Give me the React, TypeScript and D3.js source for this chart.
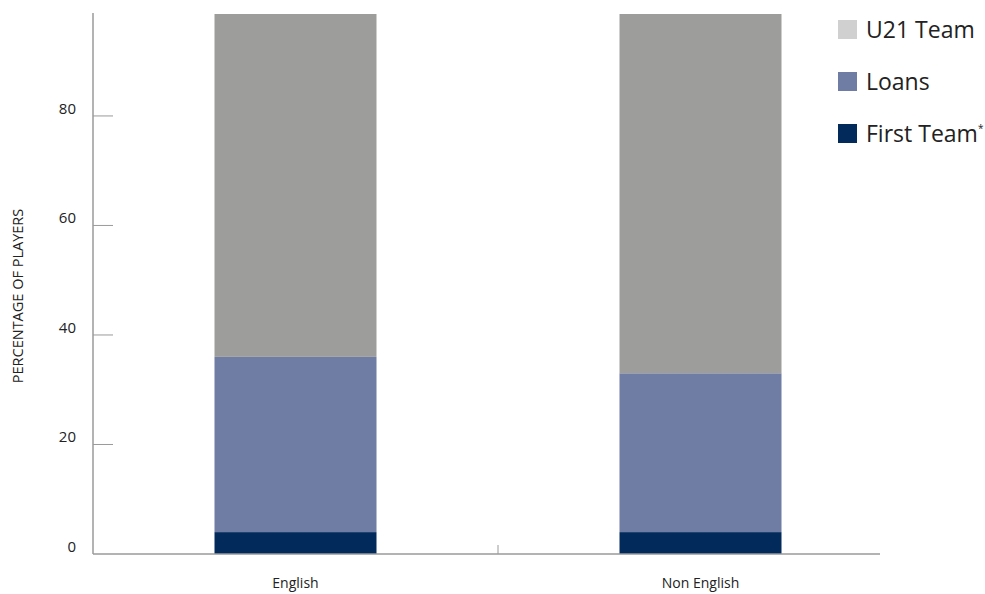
import React from "react";
import * as d3 from "d3";

const categories = ["English", "Non English"];
const seriesNames = ["First Team", "Loans", "U21 Team"];
const firstTeam = [4, 4];
const loans = [32, 29];
const u21Team = [64, 67];
const yTicks = [0, 20, 40, 60, 80];
const barColors = ["#022b5c", "#6f7ca3", "#9d9d9b"];
const legendColors = ["#022b5c", "#6f7ca3", "#d0d0d0"];
const legendItems = ["U21 Team", "Loans", "First Team"];

const W = 985;
const H = 594;
const left = 93;
const right = 903;
const top = 13;
const bottom = 554;

export default function App() {
  const rows = categories.map((c, i) => ({
    cat: c,
    "First Team": firstTeam[i],
    Loans: loans[i],
    "U21 Team": u21Team[i],
  }));
  const stack = d3.stack<any>().keys(seriesNames)(rows);
  const x = d3.scaleBand().domain(categories).range([left, right]).paddingInner(0.6).paddingOuter(0.3);
  const y = d3.scaleLinear().domain([0, 98.8]).range([bottom, top]);
  const font = "'Open Sans', sans-serif";
  const axisColor = "#9a9a9a";
  return (
    <svg width={W} height={H} style={{ position: "absolute", left: 0, top: 0, background: "#fff" }}>
      <defs>
        <clipPath id="plot">
          <rect x={left} y={top + 1} width={right - left} height={bottom - top - 1} />
        </clipPath>
      </defs>
      <g clipPath="url(#plot)">
        {stack.map((s, si) =>
          s.map((d, i) => (
            <rect
              key={si + "-" + i}
              x={x(categories[i])}
              width={x.bandwidth()}
              y={y(d[1])}
              height={y(d[0]) - y(d[1])}
              fill={barColors[si]}
            />
          ))
        )}
      </g>
      <line x1={left} x2={left} y1={top} y2={bottom} stroke={axisColor} strokeWidth={1.5} />
      <line x1={left} x2={880} y1={bottom} y2={bottom} stroke={axisColor} strokeWidth={1.5} />
      <line x1={498} x2={498} y1={bottom - 9} y2={bottom} stroke={axisColor} strokeWidth={1} />
      {yTicks.map((t) => (
        <g key={t}>
          {t > 0 && <line x1={left} x2={left + 20} y1={y(t)} y2={y(t)} stroke={axisColor} strokeWidth={1} />}
          <text x={76} y={y(t) - 2} textAnchor="end" fontFamily={font} fontSize={15} fill="#222">
            {t}
          </text>
        </g>
      ))}
      {categories.map((c) => (
        <text key={c} x={(x(c) as number) + x.bandwidth() / 2} y={588} textAnchor="middle" fontFamily={font} fontSize={14} fill="#222">
          {c}
        </text>
      ))}
      <text
        transform={`translate(23,${296}) rotate(-90)`}
        textAnchor="middle"
        fontFamily={font}
        fontSize={14.5}
        fill="#222"
      >
        PERCENTAGE OF PLAYERS
      </text>
      {legendItems.map((name, i) => {
        const ly = 20 + i * 52;
        const ci = seriesNames.length - 1 - i;
        return (
          <g key={name}>
            <rect x={838} y={ly} width={19} height={19} fill={legendColors[ci]} />
            <text x={866} y={ly + 18} fontFamily={font} fontSize={23} fill="#222">
              {name}
              {name === "First Team" && (
                <tspan fontSize={10} dy={-10}>*</tspan>
              )}
            </text>
          </g>
        );
      })}
    </svg>
  );
}
